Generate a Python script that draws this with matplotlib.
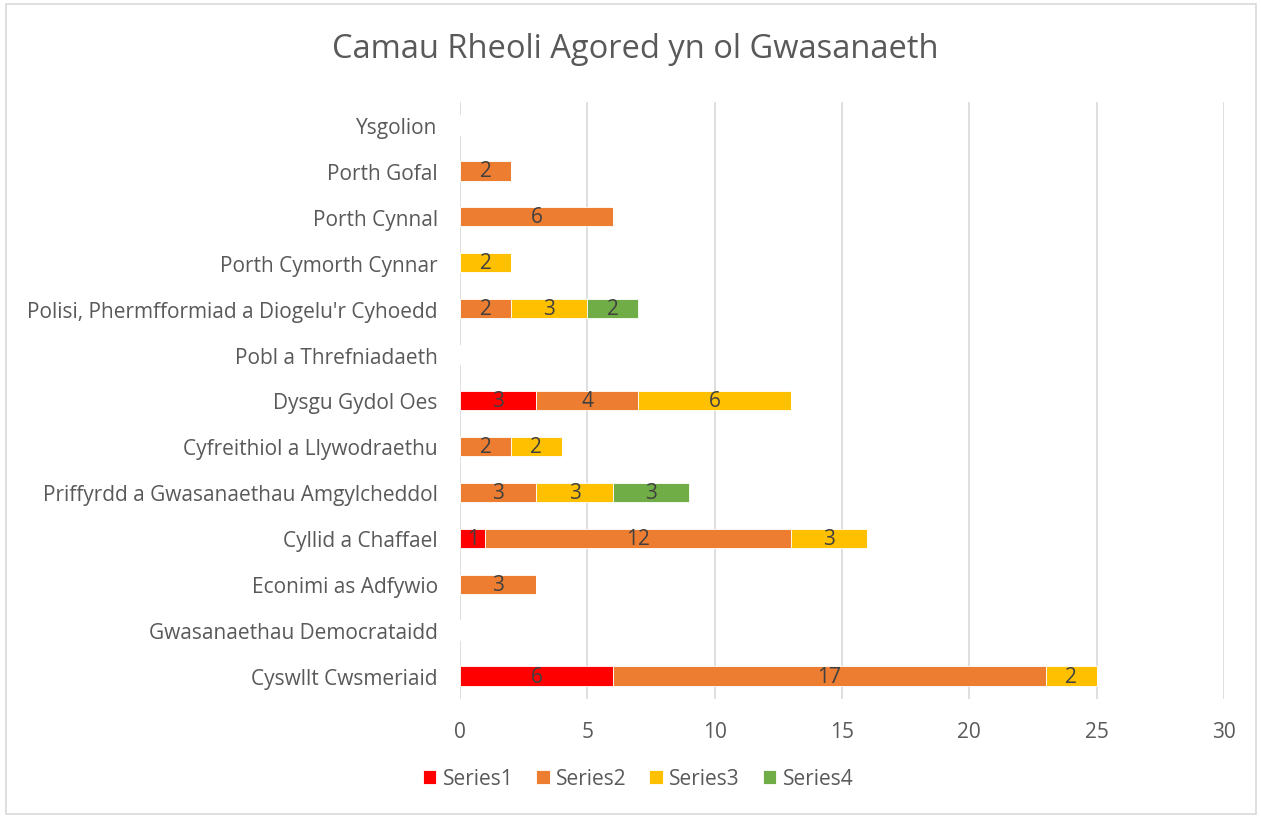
import matplotlib
matplotlib.use("Agg")
import matplotlib.pyplot as plt
from matplotlib.patches import Rectangle
import numpy as np

categories = [
    "Cyswllt Cwsmeriaid",
    "Gwasanaethau Democrataidd",
    "Econimi as Adfywio",
    "Cyllid a Chaffael",
    "Priffyrdd a Gwasanaethau Amgylcheddol",
    "Cyfreithiol a Llywodraethu",
    "Dysgu Gydol Oes",
    "Pobl a Threfniadaeth",
    "Polisi, Phermfformiad a Diogelu'r Cyhoedd",
    "Porth Cymorth Cynnar",
    "Porth Cynnal",
    "Porth Gofal",
    "Ysgolion",
]
series1 = [6, 0, 0, 1, 0, 0, 3, 0, 0, 0, 0, 0, 0]
series2 = [17, 0, 3, 12, 3, 2, 4, 0, 2, 0, 6, 2, 0]
series3 = [2, 0, 0, 3, 3, 2, 6, 0, 3, 2, 0, 0, 0]
series4 = [0, 0, 0, 0, 3, 0, 0, 0, 2, 0, 0, 0, 0]
series_names = ["Series1", "Series2", "Series3", "Series4"]
colors = ["#FF0000", "#ED7D31", "#FFC000", "#70AD47"]
title = "Camau Rheoli Agored yn ol Gwasanaeth"
xticks = [0, 5, 10, 15, 20, 25, 30]

plt.rcParams['font.family'] = ['Open Sans', 'DejaVu Sans']

fig = plt.figure(figsize=(12.61, 8.2), dpi=100)
ax = fig.add_axes([460/1261, 1-700/820, (1224-460)/1261, (700-103)/820])

# figure border
fig.patches.append(Rectangle((6/1261, 5/820), 1250/1261, 810/820, transform=fig.transFigure,
                             fill=False, edgecolor="#D9D9D9", linewidth=1.2))

y = np.arange(len(categories))
left = np.zeros(len(categories))
all_series = [series1, series2, series3, series4]
for name, vals, c in zip(series_names, all_series, colors):
    vals = np.array(vals, dtype=float)
    ax.barh(y, vals, left=left, height=0.42, color=c, edgecolor="white",
            linewidth=0.6, label=name, zorder=3)
    for yi, l, v in zip(y, left, vals):
        if v > 0:
            ax.text(l + v/2, yi, f"{int(v)}", ha="center", va="center",
                    fontsize=15, color="#404040", zorder=4)
    left += vals

ax.set_xlim(0, 30)
ax.set_ylim(-0.5, len(categories) - 0.5)
ax.set_xticks(xticks)
ax.set_yticks(y)
ax.set_yticklabels(categories)
ax.tick_params(axis="both", length=0, labelsize=15, colors="#595959")
ax.tick_params(axis="x", pad=16)
ax.tick_params(axis="y", pad=16)
ax.grid(axis="x", color="#D9D9D9", linewidth=1.2, zorder=0)
for s in ax.spines.values():
    s.set_visible(False)

fig.text(635/1261, 1-49/820, title, ha="center", va="center", fontsize=23.5, color="#595959")

handles, labels = ax.get_legend_handles_labels()
leg = fig.legend(handles, labels, loc="center", bbox_to_anchor=(638/1261, 1-780/820), ncol=4,
                 frameon=False, fontsize=15, handlelength=0.65, handleheight=0.65,
                 handletextpad=0.3, columnspacing=1.1, labelcolor="#595959")

fig.savefig("out.png", dpi=100)
